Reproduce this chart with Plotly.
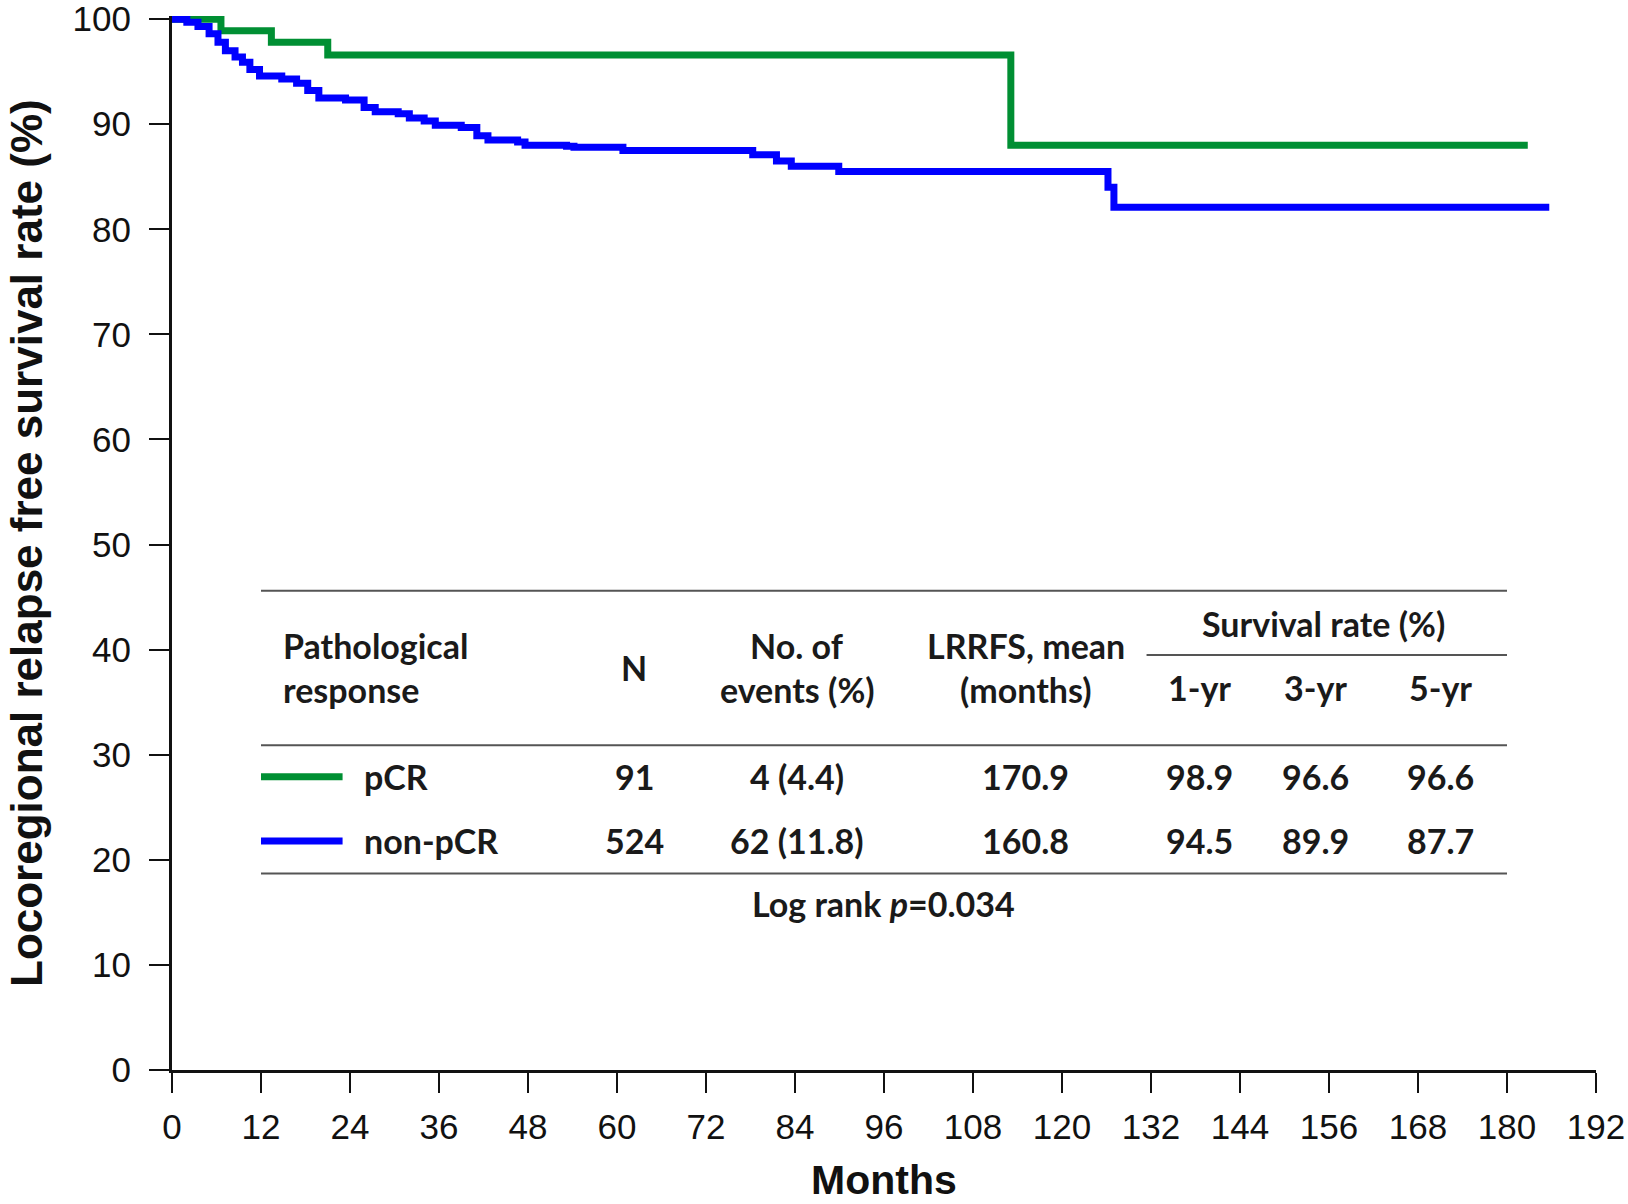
import plotly.graph_objects as go

# Kaplan-Meier step data (months, survival %)
pcr_months = [0, 6.6, 13.4, 21.0, 113.1, 182.8]
pcr_surv = [100, 98.9, 97.8, 96.6, 88.0, 88.0]

nonpcr_months = [0, 2.0, 3.5, 5.0, 6.2, 7.2, 8.5, 9.5, 10.5, 11.8, 14.8, 16.8, 18.3, 19.8,
                 23.4, 25.9, 27.4, 30.5, 32.0, 34.0, 35.5, 39.0, 41.1, 42.6, 46.6, 47.6,
                 53.2, 54.2, 60.8, 78.3, 81.5, 83.5, 89.9, 126.2, 127.0, 185.7]
nonpcr_surv = [100, 99.7, 99.3, 98.6, 97.8, 97.0, 96.4, 95.9, 95.2, 94.6, 94.3, 93.9, 93.2, 92.5,
               92.3, 91.6, 91.2, 91.0, 90.6, 90.3, 89.9, 89.7, 88.9, 88.5, 88.3, 88.0,
               87.9, 87.8, 87.5, 87.1, 86.5, 86.0, 85.5, 84.0, 82.1, 82.1]

x_ticks = list(range(0, 193, 12))
y_ticks = list(range(0, 101, 10))

groups = ["pCR", "non-pCR"]
n_vals = ["91", "524"]
events = ["4 (4.4)", "62 (11.8)"]
lrrfs = ["170.9", "160.8"]
yr1 = ["98.9", "94.5"]
yr3 = ["96.6", "89.9"]
yr5 = ["96.6", "87.7"]

GREEN = "#008f33"
BLUE = "#0000ff"

fig = go.Figure()
fig.add_trace(go.Scatter(x=pcr_months, y=pcr_surv, mode="lines", line=dict(shape="hv", color=GREEN, width=7),
                         name="pCR", showlegend=False, cliponaxis=False))
fig.add_trace(go.Scatter(x=nonpcr_months, y=nonpcr_surv, mode="lines", line=dict(shape="hv", color=BLUE, width=7),
                         name="non-pCR", showlegend=False, cliponaxis=False))

TF = dict(family="Lato, Open Sans, sans-serif", size=34, color="#1a1a1a", weight="bold")

def ann(x, y, text, xanchor="center"):
    fig.add_annotation(x=x, y=y, xref="x", yref="y", text=text, showarrow=False,
                       xanchor=xanchor, yanchor="middle", font=TF)

def hline(x0, x1, y):
    fig.add_shape(type="line", xref="x", yref="y", x0=x0, x1=x1, y0=y, y1=y,
                  line=dict(color="#555555", width=2))

hline(12, 180, 45.6)
hline(131.4, 180, 39.5)
hline(12, 180, 30.9)
hline(12, 180, 18.7)

# header
ann(14.7, 40.4, "Pathological", "left")
ann(14.7, 36.25, "response", "left")
ann(62.3, 38.3, "N")
ann(84.3, 40.4, "No. of")
ann(84.3, 36.25, "events (%)")
ann(115.1, 40.4, "LRRFS, mean")
ann(115.1, 36.25, "(months)")
ann(155.2, 42.5, "Survival rate (%)")
ann(138.5, 36.4, "1-yr")
ann(154.2, 36.4, "3-yr")
ann(171.1, 36.4, "5-yr")

row_y = [27.9, 21.8]
colors = [GREEN, BLUE]
for i in range(2):
    fig.add_shape(type="line", xref="x", yref="y", x0=12, x1=23, y0=row_y[i], y1=row_y[i],
                  line=dict(color=colors[i], width=7))
    ann(25.6, row_y[i], groups[i], "left")
    ann(62.3, row_y[i], n_vals[i])
    ann(84.3, row_y[i], events[i])
    ann(115.1, row_y[i], lrrfs[i])
    ann(138.5, row_y[i], yr1[i])
    ann(154.2, row_y[i], yr3[i])
    ann(171.1, row_y[i], yr5[i])

ann(95.9, 15.8, "Log rank <i>p</i>=0.034")

AX = dict(family="Liberation Sans, Arial, sans-serif", size=35, color="#111111")
TITLE = dict(family="Liberation Sans, Arial, sans-serif", color="#111111")

# axis titles
fig.add_annotation(x=0, y=0.5, xref="paper", yref="paper", xshift=-146, textangle=-90,
                   text="<b>Locoregional relapse free survival rate (%)</b>", showarrow=False,
                   xanchor="center", yanchor="middle", font=dict(size=44, **TITLE))
fig.add_annotation(x=0.5, y=0, xref="paper", yref="paper", yshift=-110,
                   text="<b>Months</b>", showarrow=False,
                   xanchor="center", yanchor="middle", font=dict(size=41, **TITLE))

fig.update_layout(
    width=1628, height=1204,
    margin=dict(l=172, r=32, t=16, b=134),
    plot_bgcolor="white", paper_bgcolor="white",
    xaxis=dict(range=[0, 192], tickvals=x_ticks, ticks="outside", ticklen=20, tickwidth=2, tickcolor="#111",
               showline=True, linewidth=3, linecolor="#111", showgrid=False, zeroline=False,
               tickfont=AX, automargin=False, ticklabelstandoff=4, ticklabeloverflow="allow"),
    yaxis=dict(range=[0, 100.3], tickvals=y_ticks, ticks="outside", ticklen=20, tickwidth=2, tickcolor="#111",
               showline=True, linewidth=3, linecolor="#111", showgrid=False, zeroline=False,
               tickfont=AX, automargin=False, ticklabelstandoff=11, ticklabeloverflow="allow"),
)

fig.write_html("out.html", config={"displayModeBar": False},
               post_script="document.body.style.margin='0';")
